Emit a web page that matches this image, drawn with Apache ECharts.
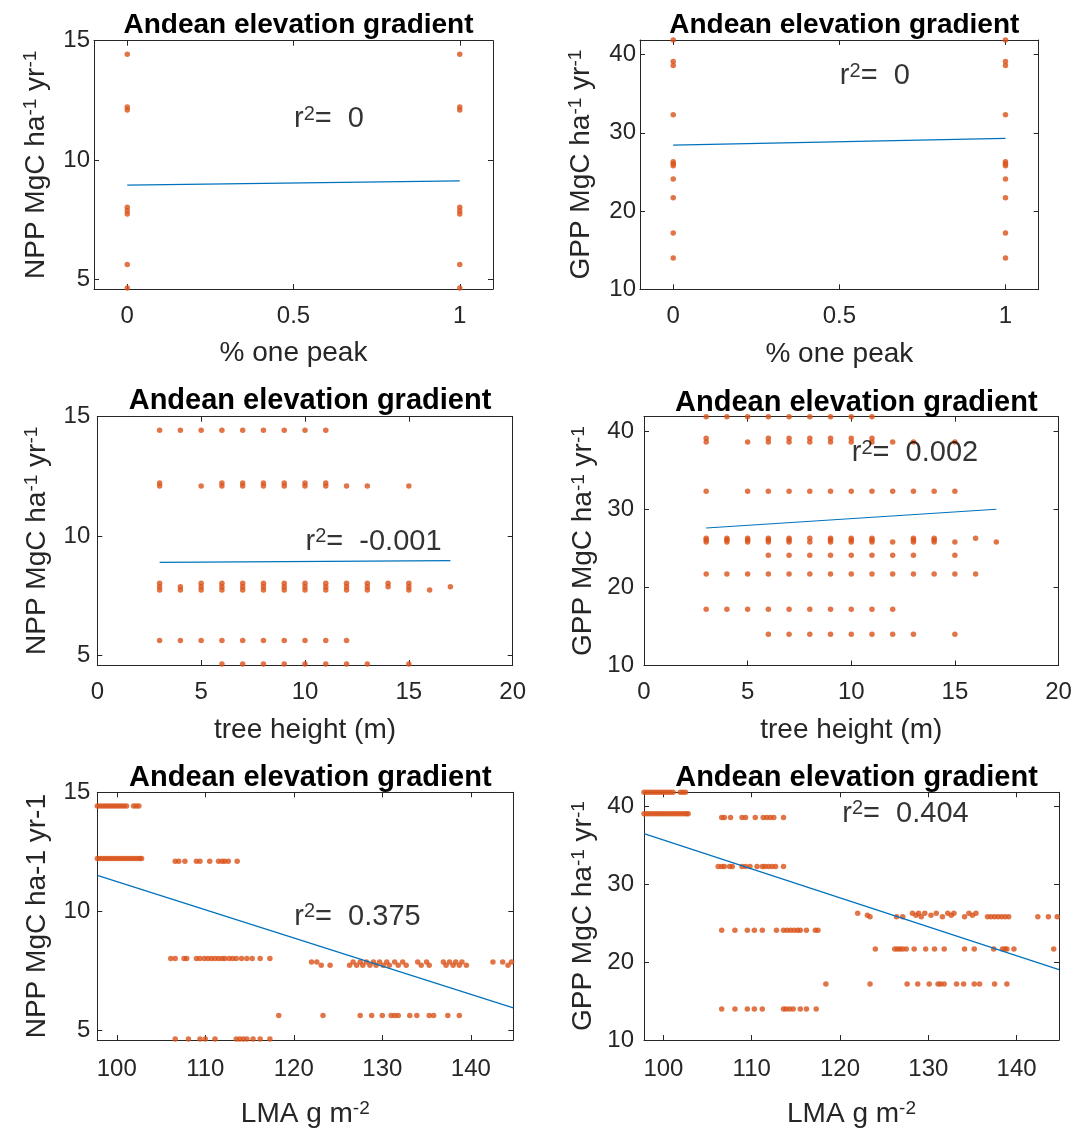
<!DOCTYPE html>
<html><head><meta charset="utf-8">
<script src="https://cdn.jsdelivr.net/npm/echarts@6/dist/echarts.min.js"></script>
<style>html,body{margin:0;padding:0;background:#fff}#c{width:1088px;height:1129px}</style>
</head><body><div id="c"></div><script>
// ---------------- DATA ----------------
const onePeakX = [0, 1];
const nppLevels = [14.43, 12.22, 12.1, 8.02, 7.88, 7.74, 5.63, 4.64];
const gppLevels = [41.85, 39.1, 38.6, 32.3, 26.3, 26.05, 25.8, 24.1, 21.7, 17.2, 14.0];

// [NPP, tree heights]
const heightNppRows = [
  [14.43, [3,4,5,6,7,8,9,10,11]],
  [12.22, [3,6,7,8,9,10,11]],
  [12.1,  [3,5,6,7,8,9,10,11,12,13,15]],
  [8.02,  [3,5,6,7,8,9,10,11,12,13,14,15]],
  [7.88,  [3,4,5,6,7,8,9,10,11,12,13,14,15,17]],
  [7.74,  [3,4,5,6,7,8,9,10,11,12,13,15,16]],
  [5.63,  [3,4,5,6,7,8,9,10,11,12]],
  [4.64,  [6,7,8,9,10,11,12,13,15]]
];
// [GPP, tree heights]
const heightGppRows = [
  [41.85, [3,4,5,6,7,8,9,10,11]],
  [39.1,  [3,6,7,8,9,10,11]],
  [38.6,  [3,5,6,7,8,9,10,11,12,13,15]],
  [32.3,  [3,5,6,7,8,9,10,11,12,13,14,15]],
  [26.3,  [3,4,5,6,7,8,9,10,11,13,14,16]],
  [26.05, [3,4,5,6,7,9,10,11,13,14]],
  [25.8,  [3,4,5,6,7,8,9,10,11,12,13,14,15,17]],
  [24.1,  [6,7,8,9,10,11,12,13,15]],
  [21.7,  [3,4,5,6,7,8,9,10,11,12,13,14,15,16]],
  [17.2,  [3,4,5,6,7,8,9,10,11,12]],
  [14.0,  [6,7,8,9,10,11,12,13,15]]
];
// [NPP, LMA values]
const lmaNppRows = [
  [14.43, [97.8,98.1,98.4,98.7,99.0,99.3,99.6,99.9,100.2,100.5,100.8,101.1,101.9,102.2,102.5]],
  [12.22, [97.8,98.1,98.4,98.7,99.0,99.3,99.6,99.9,100.2,100.5,100.8,101.1,101.4,101.7,102.0,102.3,102.6,102.8]],
  [12.1,  [106.6,107.0,107.7,109.0,109.4,110.5,111.5,111.9,112.2,112.6,113.6]],
  [8.02,  [106.1,106.6,107.6,107.9,109.0,109.4,109.9,110.3,110.7,111.1,111.5,111.9,112.2,112.7,113.1,113.5,114.1,114.7,115.3,116.2,117.3]],
  [7.88,  [122.0,122.6,126.7,127.5,128.2,129.0,129.7,130.5,131.4,132.3,134.0,135.0,136.9,137.6,138.3,139.0,142.5,143.6,144.6]],
  [7.74,  [123.1,124.1,126.3,127.1,127.8,128.6,129.3,130.1,130.8,131.8,132.7,134.4,135.3,137.2,138.0,138.7,139.5,144.2]],
  [5.63,  [118.3,123.3,127.5,128.8,130.0,131.0,131.4,131.8,133.1,133.9,135.3,135.8,137.4,138.7]],
  [4.64,  [106.6,108.1,109.4,110.0,111.1,113.5,113.9,114.3,114.7,115.4,116.2,117.3]]
];
// [GPP, LMA values]
const lmaGppRows = [
  [41.85, [97.8,98.1,98.4,98.7,99.0,99.3,99.6,99.9,100.2,100.5,100.8,101.1,101.9,102.2,102.5]],
  [39.1,  [97.8,98.1,98.4,98.7,99.0,99.3,99.6,99.9,100.2,100.5,100.8,101.1,101.4,101.7,102.0,102.3,102.6,102.8]],
  [38.6,  [106.6,106.9,107.6,108.9,109.3,110.4,111.3,111.7,112.1,112.5,113.6]],
  [32.3,  [106.2,106.6,106.9,107.5,107.8,108.9,109.3,109.8,110.6,111.2,111.5,111.9,112.3,112.7,113.6]],
  [26.3,  [122.0,128.2,128.9,129.6,130.9,132.2,132.9,134.6,135.4]],
  [26.05, [123.1,128.6,130.3,132.6,135.0]],
  [25.85, [123.4,126.4,127.1,129.2,131.6,134.1,136.7,137.1,137.5,137.9,138.3,138.7,139.1,142.4,143.6,144.6]],
  [24.1,  [106.6,108.1,109.5,110.3,111.2,112.8,113.6,114.0,114.4,114.8,115.2,115.5,116.2,117.2,117.5]],
  [21.7,  [124.0,126.2,126.5,126.8,127.1,127.5,128.4,129.7,130.7,131.8,134.1,135.2,137.4,138.4,138.7,138.9,139.7,144.2]],
  [17.2,  [118.4,123.4,127.6,128.8,130.1,131.1,131.4,131.8,133.2,134.0,135.2,135.8,137.5,138.9]],
  [14.0,  [106.6,108.1,109.5,110.3,111.2,113.6,113.9,114.3,114.7,115.5,116.2,117.3]]
];

// regression line end points
const fitOnePeakNpp = [[0, 8.95], [1, 9.13]];
const fitOnePeakGpp = [[0, 28.42], [1, 29.27]];
const fitHeightNpp  = [[3, 8.90], [17, 8.97]];
const fitHeightGpp  = [[3, 27.6], [17, 30.0]];
const fitLmaNpp     = [[97.8, 11.51], [144.8, 5.95]];
const fitLmaGpp     = [[97.8, 36.54], [144.8, 19.05]];

const r2Values = ['0', '0', '-0.001', '0.002', '0.375', '0.404'];

const onePeakTicks = [0, 0.5, 1];
const heightTicks = [0, 5, 10, 15, 20];
const lmaTicks = [100, 110, 120, 130, 140];
const nppTicks = [5, 10, 15];
const gppTicks = [10, 20, 30, 40];

const titleText = 'Andean elevation gradient';

// ---------------- HELPERS ----------------
function rowsToPoints(rows) {
  const pts = [];
  rows.forEach(([y, xs]) => xs.forEach(x => pts.push([x, y])));
  return pts;
}
const FONT = '"Liberation Sans", Arial, Helvetica, sans-serif';
const AX = '#262626';
const DOT = '#D95319';
const LINE = '#0072BD';

const nameRich = {
  a: { fontSize: 28, lineHeight: 29, fontFamily: FONT, color: AX },
  s: { fontSize: 19, lineHeight: 19, verticalAlign: 'top', fontFamily: FONT, color: AX }
};
const nppSupName = '{a|NPP MgC ha}{s|-1}{a| yr}{s|-1}';
const gppSupName = '{a|GPP MgC ha}{s|-1}{a| yr}{s|-1}';

const panels = [
  { grid: {left: 94, top: 40.7, width: 399, height: 248.3},
    x: {min: -0.1, max: 1.1, ticks: onePeakTicks, name: '{a|% one peak}', gap: 50, margin: 15},
    y: {min: 4.6, max: 15, ticks: nppTicks, name: nppSupName, gap: 43.5, margin: 4},
    pts: rowsToPoints(nppLevels.map(v => [v, onePeakX])), fit: fitOnePeakNpp,
    note: [0.5, 11.7], title: {cx: 293.5, top: 6, size: 28} },
  { grid: {left: 640, top: 40, width: 398.7, height: 249.3},
    x: {min: -0.1, max: 1.1, ticks: onePeakTicks, name: '{a|% one peak}', gap: 50, margin: 15},
    y: {min: 10, max: 41.85, ticks: gppTicks, name: gppSupName, gap: 44.5, margin: 4},
    pts: rowsToPoints(gppLevels.map(v => [v, onePeakX])), fit: fitOnePeakGpp,
    note: [0.5, 37.2], title: {cx: 839.3, top: 6.5, size: 28} },
  { grid: {left: 97.3, top: 416.7, width: 415.4, height: 248.3},
    x: {min: 0, max: 20, ticks: heightTicks, name: '{a|tree height (m)}', gap: 50.5, margin: 15},
    y: {min: 4.6, max: 15, ticks: nppTicks, name: nppSupName, gap: 46, margin: 7},
    pts: rowsToPoints(heightNppRows), fit: fitHeightNpp,
    note: [10, 9.76], title: {cx: 305, top: 381.5, size: 29} },
  { grid: {left: 644, top: 416.7, width: 414.5, height: 248.8},
    x: {min: 0, max: 20, ticks: heightTicks, name: '{a|tree height (m)}', gap: 50.5, margin: 15},
    y: {min: 10, max: 41.85, ticks: gppTicks, name: gppSupName, gap: 46, margin: 10},
    pts: rowsToPoints(heightGppRows), fit: fitHeightGpp,
    note: [10, 37.2], title: {cx: 851.3, top: 383.5, size: 29} },
  { grid: {left: 97.3, top: 792.3, width: 416, height: 248.7},
    x: {min: 97.8, max: 144.8, ticks: lmaTicks, name: '{a|LMA g m}{s|-2}', gap: 59.5, margin: 17},
    y: {min: 4.6, max: 15, ticks: nppTicks, name: '{a|NPP MgC ha-1 yr-1}', gap: 46, margin: 7},
    pts: rowsToPoints(lmaNppRows), fit: fitLmaNpp,
    note: [120, 9.78], title: {cx: 305.3, top: 758.5, size: 29} },
  { grid: {left: 644, top: 792.3, width: 415, height: 248.7},
    x: {min: 97.8, max: 144.8, ticks: lmaTicks, name: '{a|LMA g m}{s|-2}', gap: 59.5, margin: 17},
    y: {min: 10, max: 41.85, ticks: gppTicks, name: gppSupName, gap: 46, margin: 10},
    pts: rowsToPoints(lmaGppRows), fit: fitLmaGpp,
    note: [120.2, 39.1], title: {cx: 851.5, top: 758.5, size: 29} }
];

// ---------------- OPTION ----------------
const option = { animation: false, backgroundColor: '#fff',
  title: [], grid: [], xAxis: [], yAxis: [], series: [] };

function axisBase(ticks, showLabel, margin) {
  return {
    type: 'value',
    axisLine: { show: true, onZero: false, lineStyle: { color: AX, width: 1 } },
    axisTick: { show: true, inside: true, length: 5, customValues: ticks, lineStyle: { color: AX, width: 1 } },
    axisLabel: { show: showLabel, customValues: ticks, margin: margin, fontSize: 24, fontFamily: FONT, color: AX },
    splitLine: { show: false }
  };
}

panels.forEach((p, i) => {
  option.grid.push(Object.assign({ containLabel: false }, p.grid));
  option.title.push({
    text: titleText, left: p.title.cx, top: p.title.top, textAlign: 'center',
    textStyle: { fontSize: p.title.size, fontWeight: 'bold', color: '#000', fontFamily: FONT, lineHeight: p.title.size }
  });
  const xb = Object.assign(axisBase(p.x.ticks, true, p.x.margin), {
    gridIndex: i, position: 'bottom', min: p.x.min, max: p.x.max,
    name: p.x.name, nameLocation: 'middle', nameGap: p.x.gap,
    nameTextStyle: { rich: nameRich }
  });
  const xt = Object.assign(axisBase(p.x.ticks, false, 8), {
    gridIndex: i, position: 'top', min: p.x.min, max: p.x.max
  });
  const yl = Object.assign(axisBase(p.y.ticks, true, p.y.margin), {
    gridIndex: i, position: 'left', min: p.y.min, max: p.y.max,
    name: p.y.name, nameLocation: 'middle', nameGap: p.y.gap, nameRotate: 90,
    nameTextStyle: { rich: nameRich }
  });
  const yr = Object.assign(axisBase(p.y.ticks, false, 8), {
    gridIndex: i, position: 'right', min: p.y.min, max: p.y.max
  });
  const xi = option.xAxis.length, yi = option.yAxis.length;
  option.xAxis.push(xb, xt);
  option.yAxis.push(yl, yr);

  option.series.push({
    type: 'scatter', xAxisIndex: xi, yAxisIndex: yi, data: p.pts,
    symbol: 'circle', symbolSize: 5.5, itemStyle: { color: DOT }, silent: true, clip: false
  });
  option.series.push({
    type: 'line', xAxisIndex: xi, yAxisIndex: yi, data: p.fit,
    symbol: 'none', lineStyle: { color: LINE, width: 1.2 }, silent: true
  });
  option.series.push({
    type: 'scatter', xAxisIndex: xi, yAxisIndex: yi, data: [p.note],
    symbolSize: 1, itemStyle: { color: 'rgba(0,0,0,0)' }, silent: true, z: 10,
    label: {
      show: true, position: 'right', distance: 0,
      formatter: '{r|r}{s|2}{r|=  ' + r2Values[i] + '}',
      rich: {
        r: { fontSize: 29, lineHeight: 30, fontFamily: FONT, color: '#000' },
        s: { fontSize: 20, lineHeight: 20, verticalAlign: 'top', fontFamily: FONT, color: '#000' }
      }
    }
  });
});

const chart = echarts.init(document.getElementById('c'), null, { renderer: 'canvas' });
chart.setOption(option);
</script></body></html>
